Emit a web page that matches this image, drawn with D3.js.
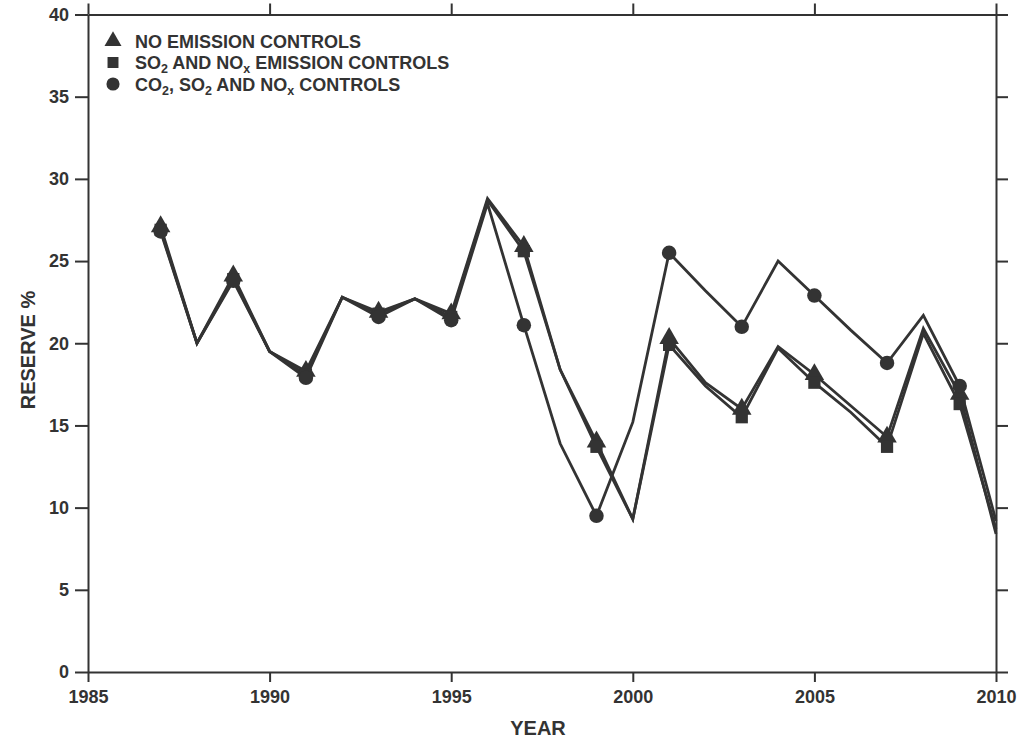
<!DOCTYPE html>
<html lang="en">
<head>
  <meta charset="UTF-8">
  <title>Reserve % by year</title>
  <script src="https://d3js.org/d3.v7.min.js"></script>
  <style>
    body { margin: 0; background: #fff; }
    text { font-family: "Liberation Sans", Arial, sans-serif; font-weight: bold; fill: #333; }
  </style>
</head>
<body>
  <svg id="chart" width="1018" height="740"></svg>

  <script>
    // data
    const years = d3.range(1987, 2011);
    const markerYears = d3.range(1987, 2010, 2);

    const noControls = [27.1, 20.0, 24.1, 19.5, 18.3, 22.8, 21.9, 22.7, 21.8, 28.8, 25.9, 18.4,
                        14.0, 9.3, 20.3, 17.6, 16.0, 19.8, 18.1, 16.2, 14.3, 20.9, 16.9, 8.4];
    const so2Nox = [26.9, 20.0, 23.9, 19.5, 18.1, 22.8, 21.8, 22.7, 21.6, 28.7, 25.6, 18.4,
                    13.7, 9.3, 19.9, 17.4, 15.5, 19.7, 17.6, 15.8, 13.7, 20.6, 16.3, 8.7];
    const co2So2Nox = [26.8, 20.0, 23.8, 19.5, 17.9, 22.8, 21.6, 22.7, 21.4, 28.5, 21.1, 13.9,
                       9.5, 15.2, 25.5, 23.2, 21.0, 25.0, 22.9, 20.8, 18.8, 21.7, 17.4, 9.2];

    const yTicks = d3.range(0, 41, 5);
    const xTicks = d3.range(1985, 2011, 5);

    const ink = '#333';
    const svg = d3.select('#chart');

    const x = d3.scaleLinear().domain([1985, 2010]).range([88, 996]);
    const y = d3.scaleLinear().domain([0, 40]).range([672, 14.5]);

    // axes on all four sides, ticks pointing outward
    function styleAxis(g) {
      g.selectAll('path, line').attr('stroke', ink).attr('stroke-width', 2);
      g.selectAll('text').attr('fill', ink);
    }

    svg.append('g')
      .attr('transform', `translate(${x.range()[0]},0)`)
      .call(d3.axisLeft(y).tickValues(yTicks).tickSize(13).tickSizeOuter(0).tickPadding(6))
      .call(g => g.selectAll('text').style('font-size', '18px'))
      .call(styleAxis);

    svg.append('g')
      .attr('transform', `translate(${x.range()[1]},0)`)
      .call(d3.axisRight(y).tickValues(yTicks).tickSize(12).tickSizeOuter(0).tickFormat(''))
      .call(styleAxis);

    svg.append('g')
      .attr('transform', `translate(0,${y(0)})`)
      .call(d3.axisBottom(x).tickValues(xTicks).tickSize(10).tickSizeOuter(0).tickPadding(8).tickFormat(d3.format('d')))
      .call(g => g.selectAll('text').style('font-size', '18px'))
      .call(styleAxis);

    svg.append('g')
      .attr('transform', `translate(0,${y(40)})`)
      .call(d3.axisTop(x).tickValues(xTicks).tickSize(11).tickSizeOuter(0).tickFormat(''))
      .call(styleAxis);

    svg.selectAll('.domain').attr('fill', 'none');

    // axis titles
    svg.append('text')
      .attr('x', 538).attr('y', 735)
      .attr('text-anchor', 'middle')
      .style('font-size', '20px')
      .text('YEAR');

    svg.append('text')
      .attr('transform', 'translate(35,350) rotate(-90)')
      .attr('text-anchor', 'middle')
      .style('font-size', '20px')
      .text('RESERVE %');

    // lines
    const series = [
      { name: 'co2', values: co2So2Nox, symbol: d3.symbolCircle, size: 165 },
      { name: 'none', values: noControls, symbol: d3.symbolTriangle, size: 165 },
      { name: 'so2', values: so2Nox, symbol: d3.symbolSquare, size: 150 }
    ];

    const line = d3.line()
      .x((d, i) => x(years[i]))
      .y(d => y(d));

    svg.append('g').selectAll('path')
      .data(series)
      .join('path')
      .attr('d', s => line(s.values))
      .attr('fill', 'none')
      .attr('stroke', ink)
      .attr('stroke-width', 2.8)
      .attr('stroke-linejoin', 'miter');

    // markers on odd years: triangle, square, then circle on top
    const markerOrder = [series[1], series[2], series[0]];
    markerOrder.forEach(s => {
      svg.append('g').selectAll('path')
        .data(markerYears)
        .join('path')
        .attr('transform', yr => `translate(${x(yr)},${y(s.values[years.indexOf(yr)])})`)
        .attr('d', d3.symbol().type(s.symbol).size(s.size))
        .attr('fill', ink);
    });

    // legend
    const legend = svg.append('g').attr('transform', 'translate(113,41)');
    const legendRows = [
      { symbol: d3.symbolTriangle, size: 125, parts: [['NO EMISSION CONTROLS', false]] },
      { symbol: d3.symbolSquare, size: 120, parts: [['SO', false], ['2', true], [' AND NO', false], ['x', true], [' EMISSION CONTROLS', false]] },
      { symbol: d3.symbolCircle, size: 135, parts: [['CO', false], ['2', true], [', SO', false], ['2', true], [' AND NO', false], ['x', true], [' CONTROLS', false]] }
    ];
    const rowGap = [0, 21.5, 43];

    legendRows.forEach((r, i) => {
      legend.append('path')
        .attr('transform', `translate(0,${rowGap[i]})`)
        .attr('d', d3.symbol().type(r.symbol).size(r.size))
        .attr('fill', ink);
      const t = legend.append('text')
        .attr('x', 22).attr('y', rowGap[i] + 6.5)
        .style('font-size', '18px');
      r.parts.forEach(([str, sub]) => {
        const ts = t.append('tspan').text(str);
        if (sub) {
          ts.style('font-size', '12.5px').attr('dy', 4);
        } else if (t.selectAll('tspan').size() > 1) {
          ts.attr('dy', -4);
        }
      });
    });
  </script>
</body>
</html>
